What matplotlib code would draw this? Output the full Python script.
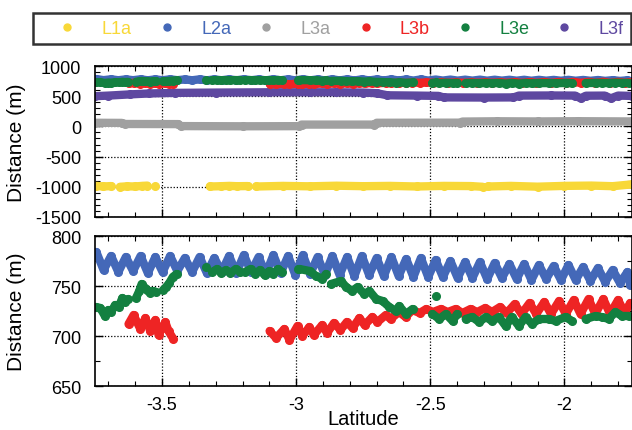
import numpy as np
import matplotlib
matplotlib.use("Agg")
import matplotlib.pyplot as plt
from matplotlib.lines import Line2D
from matplotlib.ticker import MultipleLocator

plt.rcParams['font.family'] = ['Liberation Sans', 'DejaVu Sans']

nan = np.nan

# colours of the six tracks
names = ['L1a', 'L2a', 'L3a', 'L3b', 'L3e', 'L3f']
colors = ['#F8D838', '#4468B8', '#A0A0A0', '#EE2424', '#138040', '#5E48A0']

# L2a (blue) - peaks / troughs of the wiggle
blue_lat = [-3.745, -3.718, -3.690, -3.663, -3.635, -3.608, -3.580, -3.553, -3.525, -3.498,
            -3.470, -3.443, -3.415, -3.388, -3.360, -3.333, -3.305, -3.278, -3.250, -3.223,
            -3.195, -3.168, -3.140, -3.113, -3.085, -3.058, -3.030, -3.003, -2.975, -2.948,
            -2.920, -2.893, -2.865, -2.838, -2.810, -2.783, -2.755, -2.728, -2.700, -2.673,
            -2.645, -2.618, -2.590, -2.563, -2.535, -2.508, -2.480, -2.453, -2.425, -2.398,
            -2.370, -2.343, -2.315, -2.288, -2.260, -2.233, -2.205, -2.178, -2.150, -2.123,
            -2.095, -2.068, -2.040, -2.013, -1.985, -1.958, -1.930, -1.903, -1.875, -1.848,
            -1.820, -1.793, -1.765, -1.755]
blue_val = [784, 766, 780, 764, 779, 765, 780, 763, 779, 764,
            780, 765, 778, 764, 779, 763, 778, 764, 780, 763,
            781, 764, 779, 762, 781, 763, 780, 761, 781, 762,
            779, 761, 780, 761, 779, 760, 780, 761, 778, 760,
            779, 760, 777, 759, 778, 759, 776, 759, 775, 758,
            774, 758, 774, 757, 773, 758, 772, 757, 772, 756,
            771, 757, 770, 756, 771, 756, 769, 755, 768, 754,
            766, 753, 764, 751]

# L3b (red)
red_lat = [-3.625, -3.606, -3.581, -3.562, -3.544, -3.525, -3.513, -3.488, -3.476, -3.458, nan,
           -3.099, -3.075, -3.044, -3.025, -2.995, -2.977, -2.951, -2.934, -2.903, -2.885,
           -2.859, -2.835, -2.811, -2.790, -2.764, -2.745, -2.716, -2.697, -2.666, -2.648,
           -2.617, -2.592, -2.567, -2.540, -2.515, -2.490, -2.460, -2.435, -2.405, -2.380,
           -2.350, -2.325, -2.295, -2.270, -2.240, -2.215, -2.185, -2.160, -2.130, -2.105,
           -2.075, -2.050, -2.020, -1.995, -1.965, -1.940, -1.910, -1.885, -1.855, -1.830,
           -1.800, -1.775, -1.755]
red_val = [712, 721, 707, 718, 705, 716, 701, 714, 705, 697, nan,
           705, 698, 707, 696, 710, 700, 709, 701, 711, 703,
           713, 706, 714, 708, 718, 711, 719, 714, 721, 717,
           724, 719, 726, 723, 727, 724, 727, 724, 727, 723,
           727, 724, 728, 724, 729, 723, 732, 722, 733, 722,
           734, 722, 735, 722, 736, 722, 737, 722, 737, 722,
           736, 723, 733]

# L3e (green)
green_lat = [-3.746, -3.730, -3.713, -3.700, -3.690, -3.675, -3.662, -3.648, -3.638, -3.627, nan,
             -3.597, -3.585, -3.576, -3.565, -3.555, -3.545, -3.535, -3.522, nan,
             -3.496, -3.485, -3.473, -3.460, -3.446, nan,
             -3.335, nan,
             -3.313, -3.295, -3.280, -3.262, -3.245, -3.225, -3.208, nan,
             -3.190, -3.170, -3.152, -3.135, -3.118, -3.100, -3.085, -3.068, -3.052, nan,
             -2.995, nan,
             -2.988, -2.950, -2.926, -2.902, -2.889, nan,
             -2.870, -2.833, -2.814, -2.791, -2.771, -2.746, -2.727, -2.702, -2.678, -2.653,
             -2.628, -2.616, -2.591, -2.566, nan,
             -2.479, nan,
             -2.492, -2.467, -2.442, -2.417, -2.400, nan,
             -2.368, -2.344, -2.318, -2.293, -2.270, -2.244, -2.219, -2.196, -2.170, -2.145,
             -2.121, -2.095, -2.058, -2.033, -1.996, -1.972, nan,
             -1.921, -1.884, -1.861, -1.835, -1.810, -1.786, -1.760]
green_val = [729, 728, 720, 726, 724, 731, 729, 738, 734, 737, nan,
             738, 745, 752, 748, 746, 743, 745, 744, nan,
             746, 749, 753, 759, 762, nan,
             769, nan,
             764, 767, 763, 766, 763, 767, 764, nan,
             764, 767, 762, 766, 761, 765, 762, 767, 764, nan,
             767, nan,
             767, 765, 760, 757, 762, nan,
             752, 755, 749, 745, 749, 742, 745, 737, 735, 729,
             725, 730, 722, 727, nan,
             740, nan,
             722, 717, 722, 715, 722, nan,
             717, 719, 714, 719, 715, 719, 710, 719, 710, 719,
             712, 717, 717, 715, 719, 715, nan,
             717, 720, 719, 717, 724, 720, 720]

# L3f (purple), top panel only
purple_lat = [-3.750, -3.700, -3.620, -3.550, -3.450, -3.300, -3.100, -2.950, -2.850, -2.750,
              -2.700, -2.660, -2.550, -2.470, -2.450, -2.300, -2.190, -2.170, -2.050, -1.960,
              -1.940, -1.920, -1.850, -1.827, -1.800, -1.750]
purple_val = [500, 510, 530, 545, 555, 560, 565, 565, 565, 560,
              550, 515, 510, 505, 480, 478, 480, 510, 512, 510,
              465, 508, 510, 465, 510, 505]

# L3a (grey), top panel only
gray_lat = [-3.750, -3.650, -3.640, -3.440, -3.430, -3.200, -2.990, -2.980, -2.710, -2.700,
            -2.390, -2.380, -2.250, -2.100, -1.950, -1.750]
gray_val = [60, 58, 40, 38, 5, 2, 4, 30, 30, 60,
            62, 80, 85, 82, 86, 82]

# L1a (yellow), top panel only
yellow_lat = [-3.745, -3.720, -3.690, nan, -3.657, -3.630, -3.600, -3.575, -3.555, nan,
              -3.525, nan,
              -3.322, -3.280, -3.250, -3.220, -3.181, nan,
              -3.148, -3.050, -2.950, -2.850, -2.750, -2.650, -2.550, -2.450, -2.350, -2.305, nan,
              -2.285, -2.200, -2.100, -2.000, -1.900, -1.820, -1.750]
yellow_val = [-985, -995, -988, nan, -1000, -992, -995, -985, -980, nan,
              -980, nan,
              -995, -990, -985, -990, -988, nan,
              -995, -985, -992, -982, -990, -985, -995, -985, -988, -1000, nan,
              -995, -985, -998, -985, -980, -990, -960]

fig = plt.figure(figsize=(6.32, 4.31), dpi=100)
ax1 = fig.add_axes([95 / 632, 1 - 218 / 431, 536.5 / 632, 151 / 431])
ax2 = fig.add_axes([95 / 632, 1 - 387 / 431, 536.5 / 632, 150 / 431])

style = dict(lw=6, marker='o', ms=5.5, solid_capstyle='round', solid_joinstyle='round')

ax1.plot(yellow_lat, yellow_val, color=colors[0], **style)
ax1.plot(gray_lat, gray_val, color=colors[2], **style)
ax1.plot(purple_lat, purple_val, color=colors[5], **style)
ax1.plot(blue_lat, blue_val, color=colors[1], **style)
ax1.plot(red_lat, red_val, color=colors[3], **style)
ax1.plot(green_lat, green_val, color=colors[4], **style)

ax2.plot(blue_lat, blue_val, color=colors[1], **style)
ax2.plot(red_lat, red_val, color=colors[3], **style)
ax2.plot(green_lat, green_val, color=colors[4], **style)

ax1.set_ylim(-1500, 1000)
ax2.set_ylim(650, 800)
ax1.set_yticks([-1500, -1000, -500, 0, 500, 1000])
ax1.set_yticklabels(['-1500', '-1000', '-500', '0', '500', '1000'])
ax1.yaxis.set_minor_locator(MultipleLocator(100))
ax2.yaxis.set_major_locator(MultipleLocator(50))
ax2.yaxis.set_minor_locator(MultipleLocator(25))

for ax in (ax1, ax2):
    ax.set_xlim(-3.75, -1.75)
    ax.set_xticks([-3.5, -3, -2.5, -2])
    ax.set_xticklabels(['-3.5', '-3', '-2.5', '-2'])
    ax.xaxis.set_minor_locator(MultipleLocator(0.1))
    ax.tick_params(which='both', direction='in', top=True, right=True, labelsize=13)
    ax.tick_params(axis='y', pad=10)
    ax.tick_params(axis='x', pad=7)
    ax.tick_params(which='major', length=6, width=1)
    ax.tick_params(which='minor', length=3.5, width=0.8)
    ax.grid(True, which='major', color='black', linestyle=(0, (1, 1.5)), linewidth=0.9)
    ax.set_axisbelow(True)
    for s in ax.spines.values():
        s.set_linewidth(1.2)
    ax.set_ylabel('Distance (m)', fontsize=15)
    ax.yaxis.set_label_coords(-0.128, 0.5)

ax1.tick_params(labelbottom=False)
ax2.set_xlabel('Latitude', fontsize=14.5, labelpad=-3)

handles = [Line2D([], [], ls='none', marker='o', ms=5, color=c) for c in colors]
leg = fig.legend(handles, names, loc='center', ncol=6, mode='expand',
                 bbox_to_anchor=(33 / 632, 1 - 47 / 431, 598 / 632, 35 / 431),
                 borderaxespad=0, fontsize=13, handlelength=3.0, handletextpad=0.4,
                 frameon=True, fancybox=False, edgecolor='black', labelcolor=colors)
leg.get_frame().set_linewidth(1.8)

fig.savefig('out.png', dpi=100)
